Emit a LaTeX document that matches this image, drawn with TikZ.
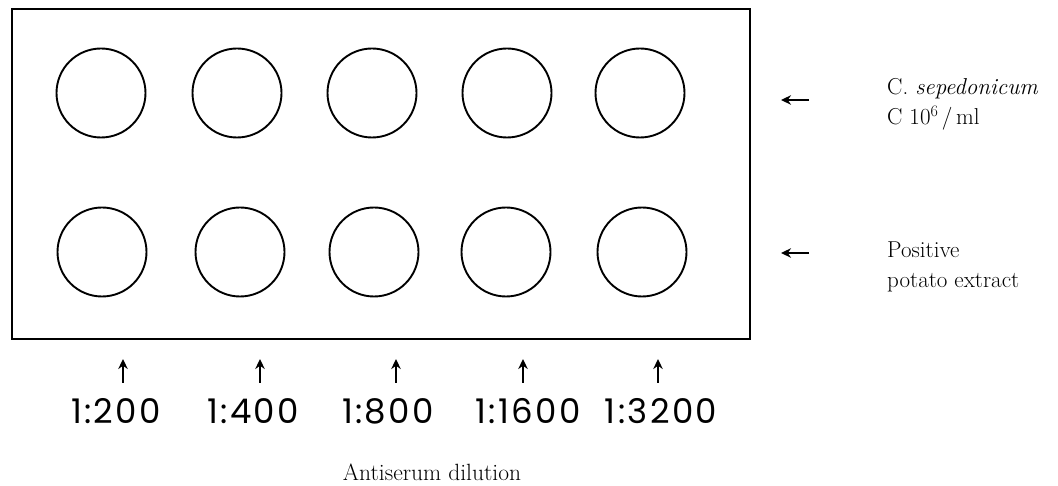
\documentclass[tikz,border=0pt]{standalone}
\usepackage{fontspec}
\newfontfamily\numfont[LetterSpace=7]{Poppins}
\usetikzlibrary{arrows.meta}
\begin{document}
\begin{tikzpicture}[x=1pt,y=-1pt,
  well/.style={circle,draw,line width=1.9pt,minimum size=89pt,inner sep=0pt},
  ptr/.style={-{Stealth[length=10pt,width=9.5pt]},line width=2.3pt},
  dil/.style={font=\numfont\fontsize{34}{34}\selectfont,anchor=base,inner sep=0pt},
  lab/.style={font=\fontsize{23}{26}\selectfont,anchor=base west,inner sep=0pt},
  axiscaption/.style={font=\fontsize{23.5}{26}\selectfont,anchor=base,inner sep=0pt}]
\useasboundingbox (0,0) rectangle (1058,486);
\node[draw,line width=2.3pt,minimum width=738pt,minimum height=330pt,inner sep=0pt] (plate) at (381,174) {};
% top row
\node[well] (w11) at (101,93) {};
\node[well] (w12) at (237,93) {};
\node[well] (w13) at (372,93) {};
\node[well] (w14) at (507,93) {};
\node[well] (w15) at (640,93) {};
% bottom row
\node[well] (w21) at (102,252) {};
\node[well] (w22) at (240,252) {};
\node[well] (w23) at (374,252) {};
\node[well] (w24) at (506,252) {};
\node[well] (w25) at (642,252) {};
% right labels
\coordinate (r1s) at (809,100); \coordinate (r1e) at (781,100);
\coordinate (r2s) at (809,253); \coordinate (r2e) at (781,253);
\draw[ptr] (r1s) -- (r1e);
\draw[ptr] (r2s) -- (r2e);
\node[lab] (l1) at (887,95) {C. \textit{sepedonicum}};
\node[lab] (l2) at (887,125) {C 10\raisebox{8pt}{\fontsize{16}{16}\selectfont 6}\,/\,ml};
\node[lab] (l3) at (887,258) {Positive};
\node[lab] (l4) at (887,288) {potato extract};
% dilutions
\node[dil] (d1) at (116,423) {1:200};
\node[dil] (d2) at (253,423) {1:400};
\node[dil] (d3) at (388,423) {1:800};
\node[dil] (d4) at (528,423) {1:1600};
\node[dil] (d5) at (661,423) {1:3200};
\foreach \i/\x in {1/123,2/260,3/396,4/523,5/658}{
  \coordinate (u\i s) at (\x,383);
  \coordinate (u\i e) at (\x,359);
  \draw[ptr] (u\i s) -- (u\i e);
}
\node[axiscaption] (axis) at (432,480) {Antiserum dilution};
\end{tikzpicture}
\end{document}
